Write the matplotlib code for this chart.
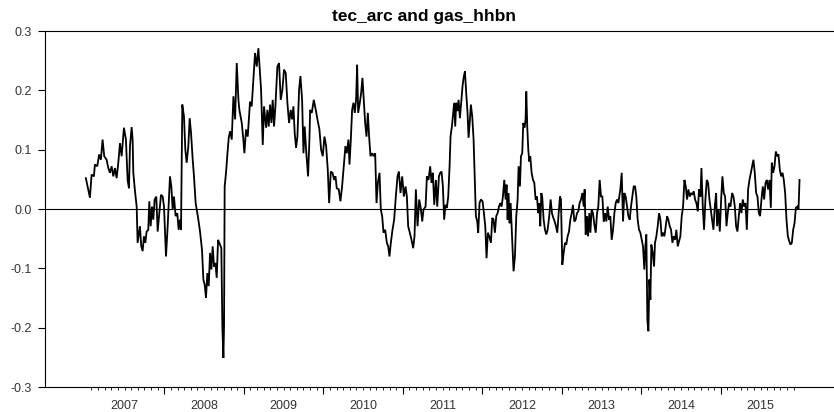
import matplotlib
matplotlib.use("Agg")
import matplotlib.pyplot as plt
import matplotlib.transforms as mtransforms

plt.rcParams["font.family"] = ["Liberation Sans", "DejaVu Sans"]
plt.rcParams["axes.unicode_minus"] = False

TITLE = "tec_arc and gas_hhbn"

# readings taken off the chart: decimal year, value
years = [
    2007.014, 2007.065, 2007.086, 2007.115, 2007.128, 2007.157, 2007.182, 2007.203,
    2007.224, 2007.245, 2007.275, 2007.296, 2007.317, 2007.338, 2007.359, 2007.380,
    2007.401, 2007.422, 2007.443, 2007.464, 2007.493, 2007.518, 2007.539, 2007.556,
    2007.569, 2007.590, 2007.602, 2007.611, 2007.632, 2007.653, 2007.665, 2007.682,
    2007.694, 2007.711, 2007.728, 2007.745, 2007.762, 2007.778, 2007.799, 2007.812,
    2007.829, 2007.846, 2007.862, 2007.879, 2007.900, 2007.917, 2007.938, 2007.959,
    2007.980, 2007.997, 2008.022, 2008.043, 2008.072, 2008.089, 2008.106, 2008.122,
    2008.143, 2008.164, 2008.181, 2008.198, 2008.211, 2008.227, 2008.248, 2008.265,
    2008.282, 2008.303, 2008.320, 2008.337, 2008.358, 2008.374, 2008.395, 2008.408,
    2008.429, 2008.450, 2008.475, 2008.492, 2008.509, 2008.525, 2008.542, 2008.559,
    2008.576, 2008.593, 2008.609, 2008.626, 2008.643, 2008.660, 2008.677, 2008.693,
    2008.718, 2008.731, 2008.744, 2008.752, 2008.760, 2008.777, 2008.794, 2008.811,
    2008.828, 2008.849, 2008.870, 2008.891, 2008.912, 2008.933, 2008.945, 2008.975,
    2008.995, 2009.008, 2009.029, 2009.050, 2009.079, 2009.100, 2009.121, 2009.142,
    2009.163, 2009.184,
    2009.218, 2009.239, 2009.255, 2009.281, 2009.297, 2009.314, 2009.331, 2009.348,
    2009.364, 2009.381, 2009.398, 2009.423, 2009.444, 2009.465, 2009.486, 2009.507,
    2009.528, 2009.549, 2009.570, 2009.591, 2009.608, 2009.625, 2009.641, 2009.658,
    2009.675, 2009.696, 2009.713, 2009.734, 2009.751, 2009.767, 2009.784, 2009.809,
    2009.826, 2009.835, 2009.856, 2009.881, 2009.906, 2009.927, 2009.952, 2009.973,
    2009.994, 2010.015, 2010.036, 2010.057, 2010.074, 2010.095, 2010.116, 2010.137,
    2010.154, 2010.170, 2010.195, 2010.216, 2010.237, 2010.258, 2010.279, 2010.296,
    2010.317, 2010.330, 2010.347, 2010.363, 2010.380, 2010.397, 2010.414, 2010.426,
    2010.439, 2010.460, 2010.477, 2010.493, 2010.510, 2010.527, 2010.544, 2010.561,
    2010.577, 2010.594, 2010.615, 2010.632, 2010.653, 2010.670, 2010.687, 2010.708,
    2010.724, 2010.741, 2010.758, 2010.779, 2010.800, 2010.817, 2010.833, 2010.850,
    2010.871, 2010.892, 2010.913, 2010.934, 2010.951, 2010.972, 2010.993, 2011.014,
    2011.035, 2011.052, 2011.068, 2011.089, 2011.110, 2011.131, 2011.148, 2011.165,
    2011.186, 2011.207, 2011.224, 2011.245, 2011.261, 2011.287, 2011.304, 2011.324,
    2011.345, 2011.362, 2011.379, 2011.396, 2011.417, 2011.434, 2011.455,
    2011.471, 2011.488, 2011.505, 2011.521, 2011.538, 2011.555, 2011.572, 2011.589,
    2011.601, 2011.618, 2011.630, 2011.647, 2011.660, 2011.672, 2011.689, 2011.702,
    2011.719, 2011.735, 2011.752, 2011.765, 2011.782, 2011.798, 2011.815, 2011.828,
    2011.845, 2011.857, 2011.874, 2011.891, 2011.907, 2011.920, 2011.937, 2011.949,
    2011.966, 2011.983, 2012.004, 2012.021, 2012.038, 2012.054, 2012.071, 2012.088,
    2012.109, 2012.126, 2012.142, 2012.159, 2012.176, 2012.193, 2012.210, 2012.226,
    2012.243, 2012.260, 2012.277, 2012.294, 2012.306, 2012.319, 2012.331, 2012.344,
    2012.357, 2012.369, 2012.382, 2012.394, 2012.411, 2012.428, 2012.445, 2012.457,
    2012.474, 2012.487, 2012.503, 2012.516, 2012.533, 2012.545, 2012.554, 2012.566,
    2012.579, 2012.592, 2012.604, 2012.621, 2012.638, 2012.655, 2012.671, 2012.688,
    2012.705, 2012.717, 2012.730, 2012.743, 2012.755, 2012.772, 2012.789, 2012.806,
    2012.822, 2012.843, 2012.860, 2012.877, 2012.894, 2012.911, 2012.927, 2012.944,
    2012.961, 2012.978, 2012.990, 2013.007, 2013.024, 2013.041, 2013.057, 2013.074,
    2013.091, 2013.108, 2013.125, 2013.141, 2013.158, 2013.175, 2013.192, 2013.208,
    2013.225, 2013.242, 2013.259, 2013.276, 2013.288, 2013.301, 2013.318, 2013.330,
    2013.347, 2013.360, 2013.376, 2013.393, 2013.410, 2013.427, 2013.444, 2013.460,
    2013.477, 2013.494, 2013.511, 2013.528, 2013.544, 2013.561, 2013.578, 2013.595,
    2013.611, 2013.628, 2013.645, 2013.662, 2013.679, 2013.695, 2013.712,
    2013.737, 2013.754, 2013.771, 2013.787, 2013.804, 2013.821, 2013.838, 2013.855,
    2013.871, 2013.888, 2013.905, 2013.922, 2013.938, 2013.955, 2013.972, 2013.989,
    2014.006, 2014.022, 2014.039, 2014.052, 2014.064, 2014.077, 2014.090, 2014.102,
    2014.115, 2014.127, 2014.144, 2014.161, 2014.173, 2014.190, 2014.207, 2014.224,
    2014.241, 2014.257, 2014.274, 2014.291, 2014.308, 2014.325, 2014.341, 2014.358,
    2014.375, 2014.392, 2014.408, 2014.425, 2014.442, 2014.459, 2014.476, 2014.492,
    2014.509, 2014.526, 2014.543, 2014.560, 2014.576, 2014.593, 2014.610, 2014.627,
    2014.644, 2014.660, 2014.677, 2014.694, 2014.711, 2014.727, 2014.744, 2014.757,
    2014.774, 2014.790, 2014.807, 2014.824, 2014.841, 2014.858, 2014.874, 2014.891,
    2014.908, 2014.925, 2014.942, 2014.954, 2014.971, 2014.988, 2015.005, 2015.021,
    2015.038, 2015.055, 2015.072, 2015.088, 2015.105, 2015.122, 2015.143, 2015.160,
    2015.177, 2015.193, 2015.210, 2015.227, 2015.244, 2015.260, 2015.277, 2015.294,
    2015.311, 2015.328, 2015.344, 2015.361, 2015.378, 2015.395, 2015.411, 2015.428,
    2015.445, 2015.462, 2015.479, 2015.495, 2015.512, 2015.529, 2015.546, 2015.563,
    2015.579, 2015.596, 2015.613, 2015.630, 2015.642, 2015.659, 2015.676, 2015.693,
    2015.710, 2015.726, 2015.743, 2015.760, 2015.777, 2015.793, 2015.810, 2015.827,
    2015.844, 2015.861, 2015.877, 2015.894, 2015.911, 2015.928, 2015.945, 2015.962,
    2015.978, 2015.991,
]

corr = [
    0.052, 0.019, 0.058, 0.055, 0.075, 0.072, 0.092, 0.083,
    0.117, 0.089, 0.083, 0.069, 0.061, 0.072, 0.055, 0.069,
    0.052, 0.078, 0.111, 0.089, 0.137, 0.117, 0.049, 0.035,
    0.106, 0.138, 0.117, 0.061, 0.030, 0.004, -0.057, -0.040,
    -0.029, -0.063, -0.071, -0.046, -0.057, -0.038, -0.035, 0.013,
    -0.029, 0.004, -0.018, 0.016, 0.021, -0.038, -0.007, 0.024,
    0.021, 0.004, -0.080, -0.029, 0.055, 0.038, -0.001, 0.021,
    -0.012, -0.007, -0.035, -0.018, -0.035, 0.176, 0.156, 0.100,
    0.078, 0.106, 0.153, 0.128, 0.083, 0.055, 0.010, -0.001,
    -0.018, -0.038, -0.069, -0.119, -0.128, -0.150, -0.108, -0.130,
    -0.074, -0.102, -0.063, -0.097, -0.091, -0.116, -0.052, -0.057,
    -0.066, -0.198, -0.251, -0.198, 0.038, 0.061, 0.092, 0.120,
    0.131, 0.117, 0.190, 0.151, 0.246, 0.184, 0.167, 0.145,
    0.117, 0.094, 0.134, 0.122, 0.181, 0.173, 0.218, 0.263,
    0.240, 0.271,
    0.201, 0.108, 0.173, 0.137, 0.167, 0.139, 0.176, 0.145,
    0.184, 0.139, 0.173, 0.240, 0.246, 0.184, 0.201, 0.235,
    0.229, 0.179, 0.145, 0.167, 0.151, 0.173, 0.128, 0.103,
    0.122, 0.201, 0.224, 0.184, 0.094, 0.139, 0.100, 0.055,
    0.117, 0.167, 0.162, 0.184, 0.167, 0.151, 0.134, 0.100,
    0.089, 0.122, 0.106, 0.066, 0.010, 0.063, 0.061, 0.049,
    0.055, 0.035, 0.033, 0.013, 0.038, 0.072, 0.106, 0.094,
    0.117, 0.075, 0.117, 0.167, 0.179, 0.162, 0.187, 0.243,
    0.162, 0.179, 0.196, 0.221, 0.184, 0.145, 0.122, 0.162,
    0.122, 0.089, 0.094, 0.089, 0.094, 0.010, 0.044, 0.061,
    -0.001, -0.012, -0.040, -0.035, -0.057, -0.063, -0.080, -0.057,
    -0.035, -0.018, 0.021, 0.055, 0.063, 0.027, 0.055, 0.021,
    0.038, 0.021, -0.029, -0.040, -0.052, -0.066, -0.046, 0.033,
    -0.029, 0.016, 0.004, -0.021, -0.001, 0.004, 0.055, 0.049,
    0.072, 0.044, 0.061, 0.007, 0.049, 0.004, 0.055,
    0.061, 0.063, 0.038, -0.018, 0.007, 0.002, 0.021, 0.072,
    0.122, 0.139, 0.156, 0.179, 0.139, 0.179, 0.165, 0.184,
    0.153, 0.179, 0.207, 0.221, 0.232, 0.196, 0.162, 0.120,
    0.151, 0.176, 0.156, 0.117, 0.049, -0.012, -0.021, -0.040,
    0.010, 0.016, 0.013, -0.007, -0.029, -0.083, -0.040, -0.046,
    -0.057, -0.015, -0.018, -0.040, -0.012, -0.007, 0.004, 0.010,
    0.004, 0.021, 0.049, 0.016, 0.041, -0.018, 0.027, -0.024,
    0.010, -0.029, -0.069, -0.105, -0.080, -0.012, 0.016, 0.072,
    0.038, 0.089, 0.094, 0.145, 0.137, 0.151, 0.198, 0.139,
    0.100, 0.080, 0.089, 0.061, 0.049, 0.044, 0.016, 0.021,
    -0.007, 0.010, -0.029, 0.027, 0.019, -0.018, -0.035, -0.043,
    -0.035, -0.012, 0.016, -0.007, -0.015, -0.021, -0.029, -0.040,
    -0.007, 0.021, 0.016, -0.094, -0.074, -0.057, -0.060, -0.046,
    -0.038, -0.018, -0.007, 0.007, -0.021, -0.018, -0.007, -0.004,
    0.010, 0.016, 0.027, 0.004, 0.033, -0.043, -0.012, -0.046,
    -0.007, -0.040, -0.001, -0.007, -0.026, -0.040, -0.007, 0.004,
    0.049, 0.021, 0.021, -0.021, -0.007, -0.021, 0.004, -0.018,
    -0.012, -0.052, -0.035, -0.007, 0.010, 0.016, 0.010,
    0.033, 0.061, -0.021, 0.027, 0.021, 0.004, -0.012, -0.018,
    0.004, 0.021, 0.038, 0.038, 0.021, -0.018, -0.035, -0.040,
    -0.052, -0.063, -0.102, -0.063, -0.043, -0.187, -0.206, -0.119,
    -0.153, -0.060, -0.074, -0.097, -0.057, -0.046, -0.029, -0.007,
    -0.018, -0.046, -0.040, -0.046, -0.029, -0.012, -0.018, -0.029,
    -0.035, -0.057, -0.046, -0.052, -0.035, -0.063, -0.054, -0.046,
    -0.012, 0.004, 0.049, 0.038, 0.016, 0.033, 0.021, 0.027,
    0.024, 0.030, 0.016, 0.010, -0.004, 0.033, 0.021, 0.069,
    0.004, -0.035, 0.016, 0.049, 0.044, 0.016, -0.001, -0.018,
    -0.035, 0.004, 0.027, -0.029, -0.001, -0.038, 0.016, 0.055,
    0.027, 0.021, -0.029, -0.007, 0.010, 0.004, 0.027, 0.021,
    0.004, -0.029, -0.038, -0.012, 0.010, -0.007, 0.016, 0.004,
    0.010, -0.035, 0.033, 0.049, 0.061, 0.072, 0.083, 0.061,
    0.027, 0.021, -0.007, -0.012, 0.016, 0.038, 0.016, 0.044,
    0.049, 0.033, 0.049, 0.002, 0.078, 0.061, 0.072, 0.097,
    0.089, 0.092, 0.066, 0.055, 0.061, 0.049, 0.027, -0.018,
    -0.046, -0.054, -0.060, -0.057, -0.035, -0.024, 0.002, 0.004,
    -0.001, 0.049,
]

year_labels = [2007, 2008, 2009, 2010, 2011, 2012, 2013, 2014, 2015]
y_ticks = [-0.3, -0.2, -0.1, 0.0, 0.1, 0.2, 0.3]

fig = plt.figure(figsize=(8.34, 4.12), dpi=100)
ax = fig.add_axes([45 / 834, 25 / 412, 795 / 834, 356 / 412])

ax.plot(years, corr, color="black", lw=1.3, solid_joinstyle="miter")
ax.axhline(0, color="black", lw=0.8)

ax.set_xlim(2006.5, 2016.5)
ax.set_ylim(-0.3, 0.3)

# y axis
ax.set_yticks(y_ticks)
ax.set_yticklabels([f"{v:.1f}" for v in y_ticks])
ax.tick_params(axis="y", direction="out", length=5, width=0.8,
               pad=4.5, labelsize=9, labelcolor="#333333")

# x axis: year boundaries as major ticks, months as minor, labels mid-year
major = year_labels[1:]
minor = [y + m / 12 for y in year_labels for m in range(1, 12)]
ax.set_xticks(major)
ax.set_xticks(minor, minor=True)
ax.tick_params(axis="x", which="major", direction="out", length=4.8,
               width=0.8, labelbottom=False)
ax.tick_params(axis="x", which="minor", direction="out", length=2.3,
               width=0.6)

trans = mtransforms.blended_transform_factory(ax.transData, ax.transAxes)
for y in year_labels:
    ax.text(y + 0.5, -0.036, str(y), transform=trans, ha="center", va="top",
            fontsize=9, color="#333333")

for side in ("top", "left", "bottom"):
    ax.spines[side].set_linewidth(0.8)
ax.spines["right"].set_visible(False)

fig.text(424 / 834, 1 - 16.5 / 412, TITLE, ha="center", va="center",
         fontsize=12.5, fontweight="bold")

fig.savefig("out.png", dpi=100)
